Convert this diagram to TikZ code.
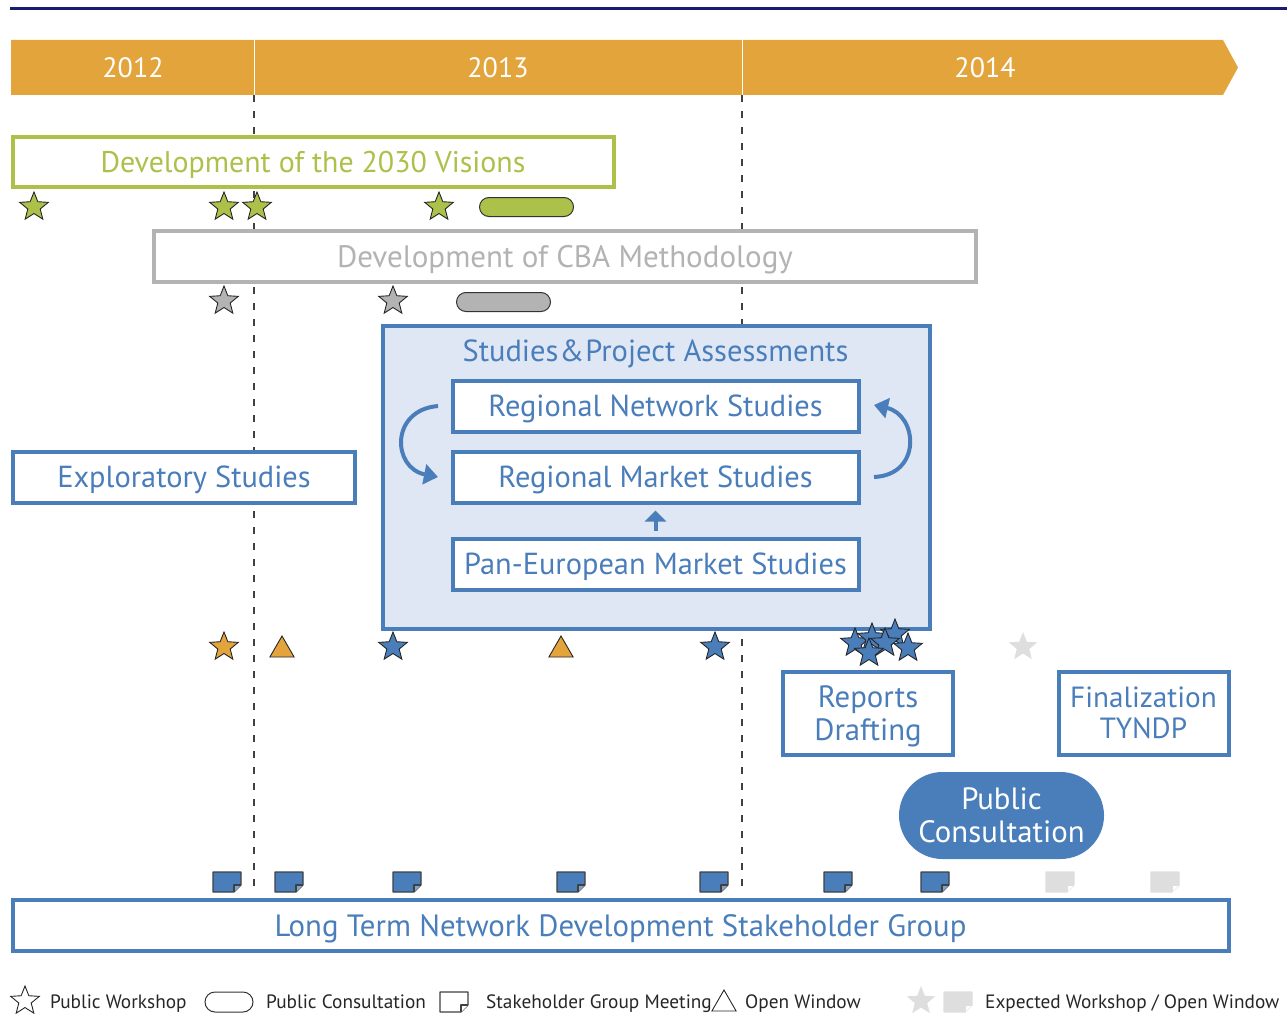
\documentclass[tikz,border=0pt]{standalone}
\usepackage{fontspec}
\setmainfont{PT Sans}
\usetikzlibrary{shapes.geometric,shapes.misc,arrows.meta}
\definecolor{bl}{HTML}{4A7EBB}
\definecolor{lb}{HTML}{DFE7F5}
\definecolor{or}{HTML}{E3A43C}
\definecolor{gn}{HTML}{ABC14A}
\definecolor{gy}{HTML}{B3B3B3}
\definecolor{lg}{HTML}{DEDEDE}
\definecolor{nv}{HTML}{1B1B6F}
\newcommand{\fs}[1]{\fontsize{#1}{#1}\selectfont}
\newcommand{\NoteSym}[5]{% x y fill draw fold
  \fill[#3] (#1-14,#2-10) -- (#1+14,#2-10) -- (#1+14,#2+3) -- (#1+7,#2+10) -- (#1-14,#2+10) -- cycle;
  \draw[#4,line width=1.1pt,line join=round] (#1-14,#2-10) -- (#1+14,#2-10) -- (#1+14,#2+3) -- (#1+7,#2+10) -- (#1-14,#2+10) -- cycle;
  \fill[#5] (#1+14,#2+3) -- (#1+7,#2+3) -- (#1+7,#2+10) -- cycle;
  \draw[#4,line width=1.1pt,line join=round] (#1+14,#2+3) -- (#1+7,#2+3) -- (#1+7,#2+10);
}
\tikzset{
  x=1pt,y=-1pt,
  bx/.style={draw=bl,line width=4pt,fill=white,text=bl,inner sep=0pt,align=center,text depth=0pt,font=\fs{30.4}},
  gbx/.style={bx,draw=gn,text=gn,font=\fs{29.9}},
  gybx/.style={bx,draw=gy,text=gy,font=\fs{31}},
  st/.style={star,star points=5,star point ratio=2.3,minimum size=30pt,inner sep=0pt,draw=black!85,line width=.9pt,fill=#1},
  est/.style={star,star points=5,star point ratio=2.3,minimum size=30pt,inner sep=0pt,fill=lg},
  tri/.style={regular polygon,regular polygon sides=3,minimum size=28pt,inner sep=0pt,draw=black!85,line width=.9pt,fill=#1},
  pill/.style={rounded rectangle,draw=black!80,line width=1pt,fill=#1,inner sep=0pt},
  yr/.style={text=white,font=\fs{28},inner sep=0pt},
  leg/.style={anchor=base west,inner sep=0pt,font=\fs{19.3},text=black!85},
  dv/.style={black!75,line width=1.2pt,dash pattern=on 7pt off 9pt},
  cv/.style={bl,line width=4pt,-{Triangle[length=14pt,width=20pt]}},
}
\begin{document}
\begin{tikzpicture}
\useasboundingbox (0,0) rectangle (1287,1014);
\draw[nv,line width=3pt] (10,8.5) -- (1287,8.5);
\fill[or] (11,40) -- (1223,40) -- (1238,67.5) -- (1223,95) -- (11,95) -- cycle;
\coordinate (d1a) at (254,40); \coordinate (d1b) at (254,95); \coordinate (d1c) at (254,895);
\coordinate (d2a) at (742,40); \coordinate (d2b) at (742,95); \coordinate (d2c) at (742,895);
\draw[white,line width=.9pt] (d1a) -- (d1b);
\draw[white,line width=.9pt] (d2a) -- (d2b);
\draw[dv] (d1b) -- (d1c);
\draw[dv] (d2b) -- (d2c);
\node[yr] (y12) at (133,68) {2012};
\node[yr] (y13) at (498,68) {2013};
\node[yr] (y14) at (985,68) {2014};

\node[gbx,minimum width=601pt,minimum height=50pt] (vis) at (313,162) {Development of the 2030 Visions};
\node[st=gn] (g1) at (34,207) {};
\node[st=gn] (g2) at (224,207) {};
\node[st=gn] (g3) at (257,207) {};
\node[st=gn] (g4) at (439,207) {};
\node[pill=gn,minimum width=94pt,minimum height=19pt] (gp) at (526.5,207) {};

\node[gybx,minimum width=822pt,minimum height=51pt] (cba) at (565,256.5) {Development of CBA Methodology};
\node[st=gy] (s1) at (224,301) {};
\node[st=gy] (s2) at (393,301) {};
\node[pill=gy,minimum width=94pt,minimum height=19pt] (sp) at (503.5,302) {};

\node[bx,minimum width=547pt,minimum height=303pt,fill=lb] (big) at (656,477) {};
\node[text=bl,font=\fs{30.5},inner sep=0pt,text depth=0pt] (bigt) at (655.5,351) {Studies\kern1pt\&\kern1ptProject Assessments};
\node[bx,minimum width=406pt,minimum height=51pt] (net) at (655.5,406) {Regional Network Studies};
\node[bx,minimum width=406pt,minimum height=51pt] (mkt) at (655.5,477) {Regional Market Studies};
\node[bx,minimum width=406pt,minimum height=51pt] (pan) at (655.5,564) {Pan-European Market Studies};
\coordinate (la) at (438,406); \coordinate (lb1) at (438,477);
\coordinate (ra) at (874,477); \coordinate (rb1) at (874,405);
\draw[cv] (la) .. controls (390,410) and (392,468) .. (lb1);
\draw[cv] (ra) .. controls (922,475) and (918,415) .. (rb1);
\draw[bl,line width=4pt,shorten >=6pt,shorten <=6pt,-{Triangle[length=11pt,width=21pt]}] (pan.north) -- (mkt.south);

\node[bx,minimum width=342pt,minimum height=51pt] (exp) at (184,477) {Exploratory Studies};

\node[st=or] (o1) at (224,647) {};
\node[tri=or] (t1) at (282,650) {};
\node[st=bl] (b1) at (393,647) {};
\node[tri=or] (t2) at (561,650) {};
\node[st=bl] (b2) at (715,647) {};
\node[st=bl] (c1) at (855,643) {};
\node[st=bl] (c2) at (872,638) {};
\node[st=bl] (c3) at (895,634) {};
\node[st=bl] (c4) at (885,643) {};
\node[st=bl] (c5) at (908,648) {};
\node[st=bl] (c6) at (869,653) {};
\node[est] (e1) at (1023,647) {};

\node[bx,minimum width=170pt,minimum height=83pt,font=\fs{30.8}] (rep) at (868,713) {Reports\\[2pt]Drafting};
\node[bx,minimum width=170pt,minimum height=83pt,font=\fs{29.2},text depth=] (fin) at (1143.5,713) {Finalization\\[2pt]TYNDP};
\node[rounded rectangle,fill=bl,text=white,minimum width=205pt,minimum height=87pt,inner sep=0pt,align=center,font=\fs{30.8}] (pub) at (1001.5,815.5) {Public\\[2pt]Consultation};

\NoteSym{227}{882}{bl}{black!75}{bl!70}
\NoteSym{289}{882}{bl}{black!75}{bl!70}
\NoteSym{407}{882}{bl}{black!75}{bl!70}
\NoteSym{571}{882}{bl}{black!75}{bl!70}
\NoteSym{714}{882}{bl}{black!75}{bl!70}
\NoteSym{838}{882}{bl}{black!75}{bl!70}
\NoteSym{935}{882}{bl}{black!75}{bl!70}
\NoteSym{1060}{882}{lg}{lg}{white}
\NoteSym{1165}{882}{lg}{lg}{white}
\node[bx,minimum width=1216pt,minimum height=51pt,font=\fs{30.8}] (ltn) at (620.5,925.5) {Long Term Network Development Stakeholder Group};

\node[st=white] (ls) at (25,1001) {};
\node[leg] (l1) at (50,1008) {Public Workshop};
\node[pill=white,minimum width=48pt,minimum height=20pt] (lp) at (229,1002) {};
\node[leg] (l2) at (266,1008) {Public Consultation};
\NoteSym{454}{1002}{white}{black!75}{white}
\node[leg] (l3) at (486,1008) {Stakeholder Group Meeting};
\node[tri=white] (lt) at (724,1004) {};
\node[leg] (l4) at (745,1008) {Open Window};
\node[est] (le) at (921,1001) {};
\NoteSym{958}{1002}{lg}{lg}{white}
\node[leg] (l5) at (985,1008) {Expected Workshop / Open Window};
\end{tikzpicture}
\end{document}
